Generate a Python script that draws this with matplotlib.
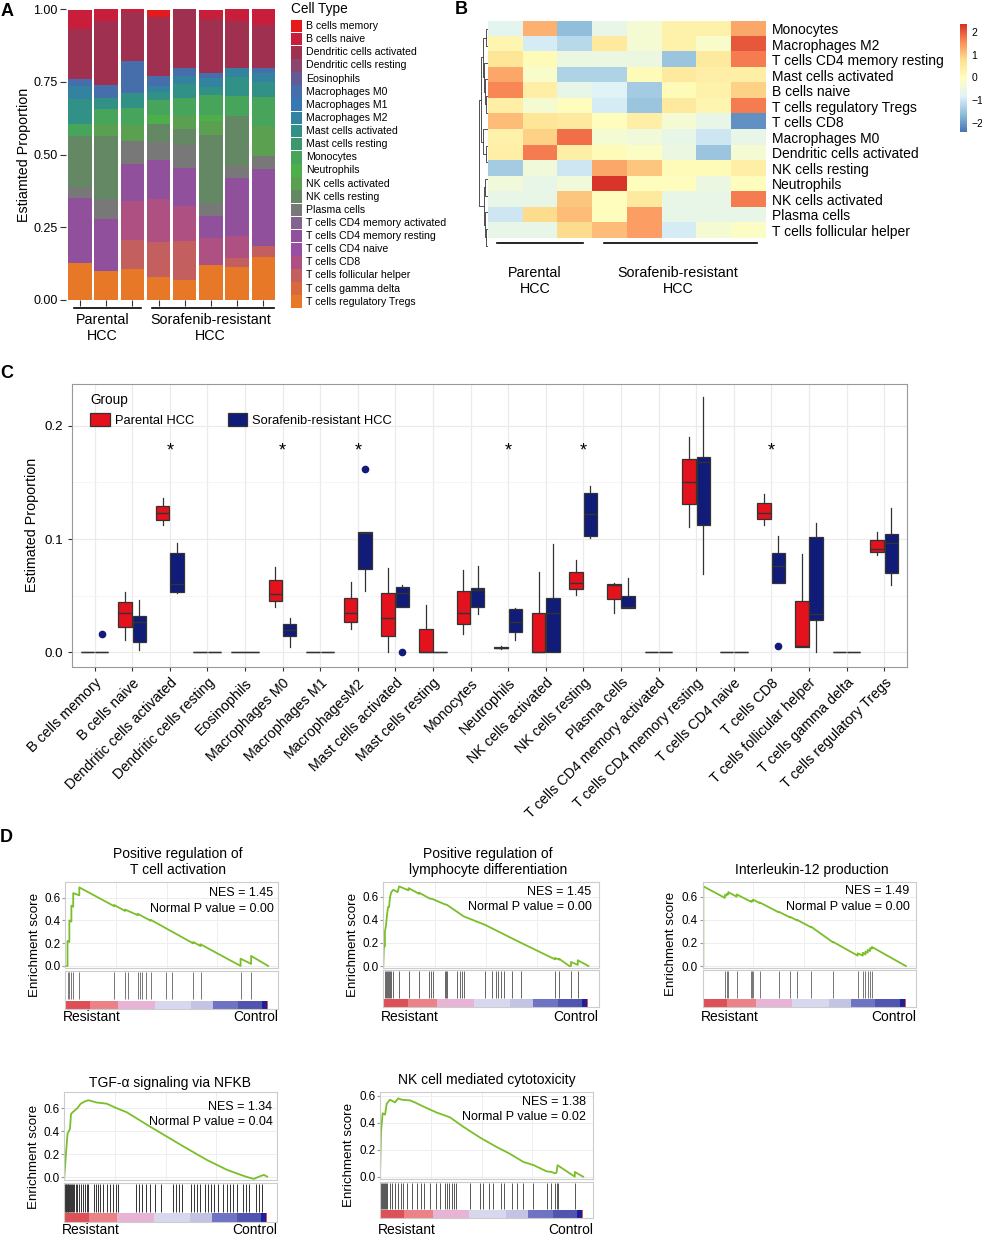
import numpy as np
import matplotlib
matplotlib.use('Agg')
import matplotlib.pyplot as plt
from matplotlib.colors import LinearSegmentedColormap
from matplotlib.patches import Rectangle, Patch

plt.rcParams['font.family'] = ['Liberation Sans', 'DejaVu Sans']

# ---------------- data ----------------
cell_types = ['B cells memory', 'B cells naive', 'Dendritic cells activated', 'Dendritic cells resting',
              'Eosinophils', 'Macrophages M0', 'Macrophages M1', 'Macrophages M2',
              'Mast cells activated', 'Mast cells resting', 'Monocytes', 'Neutrophils',
              'NK cells activated', 'NK cells resting', 'Plasma cells', 'T cells CD4 memory activated',
              'T cells CD4 memory resting', 'T cells CD4 naive', 'T cells CD8', 'T cells follicular helper',
              'T cells gamma delta', 'T cells regulatory Tregs']
cell_colors = ['#E41A1C', '#C81E3C', '#A03050', '#8C466E', '#645A96', '#466EAA', '#3778B4', '#3282A0',
               '#329187', '#3C966E', '#46A55A', '#4DAF4A', '#5AA050', '#648764', '#787878', '#82648C',
               '#91509B', '#984EA3', '#AF5082', '#C35F5F', '#D7693C', '#E67828']

# panel A: estimated proportion per sample (3 parental + 5 resistant)
prop = {
    'B cells memory': [0, 0, 0, 0.025, 0, 0, 0, 0],
    'B cells naive': [0.065, 0.042, 0.011, 0, 0, 0.034, 0.039, 0.054],
    'Dendritic cells activated': [0.172, 0.218, 0.169, 0.204, 0.203, 0.183, 0.164, 0.149],
    'Macrophages M0': [0.026, 0.046, 0.109, 0.034, 0.029, 0.019, 0, 0.017],
    'Macrophages M2': [0.042, 0, 0, 0.02, 0.025, 0.03, 0.03, 0.03],
    'Mast cells activated': [0.088, 0.038, 0.052, 0.028, 0.05, 0.027, 0.065, 0.05],
    'Monocytes': [0.041, 0.05, 0.06, 0.05, 0.06, 0.07, 0.069, 0.1],
    'Neutrophils': [0, 0, 0, 0.033, 0, 0.02, 0, 0],
    'NK cells activated': [0, 0.042, 0.055, 0, 0.047, 0.048, 0, 0.106],
    'NK cells resting': [0.174, 0.218, 0, 0.061, 0.054, 0.235, 0.172, 0],
    'Plasma cells': [0.04, 0.069, 0.077, 0.061, 0.08, 0.044, 0.042, 0.044],
    'T cells CD4 memory resting': [0.224, 0.177, 0.13, 0.134, 0.13, 0.077, 0.2, 0.264],
    'T cells CD8': [0, 0, 0.132, 0.149, 0.119, 0.092, 0.075, 0],
    'T cells follicular helper': [0, 0, 0.101, 0.12, 0.135, 0, 0.029, 0.037],
    'T cells regulatory Tregs': [0.126, 0.101, 0.106, 0.08, 0.069, 0.12, 0.115, 0.149],
}

# panel B: row z-scores
hm_rows = ['Monocytes', 'Macrophages M2', 'T cells CD4 memory resting', 'Mast cells activated',
           'B cells naive', 'T cells regulatory Tregs', 'T cells CD8', 'Macrophages M0',
           'Dendritic cells activated', 'NK cells resting', 'Neutrophils', 'NK cells activated',
           'Plasma cells', 'T cells follicular helper']
hm_vals = [
    [-0.7, 1.2, -1.6, -0.6, -0.3, 0.3, 0.3, 1.3],
    [0.2, -0.9, -1.2, 0.5, -0.3, 0.3, -0.2, 2.0],
    [0.6, 0.1, -0.5, -0.5, -0.5, -1.5, 0.5, 1.7],
    [1.3, -0.2, -1.3, -1.3, 0.1, 0.5, 0.4, 0.4],
    [1.6, 0.4, -0.6, -0.8, -1.4, 0.1, 0.3, 0.9],
    [0.4, -0.3, 0.0, -0.9, -1.5, 0.5, 0.2, 1.7],
    [1.1, 0.6, 0.5, 0.0, 0.4, -0.3, -0.6, -2.1],
    [0.3, 0.9, 1.8, -0.3, -0.4, -0.6, -1.0, -0.6],
    [0.4, 1.7, 0.4, 0.1, -0.1, -0.5, -1.5, -0.3],
    [-1.4, -0.4, -1.0, 1.3, 1.0, 0.1, 0.1, 0.4],
    [-0.4, -0.6, -0.4, 2.3, 0.0, 0.0, -0.5, 0.0],
    [-0.6, -0.6, 1.0, 0.0, 0.5, -0.6, -0.6, 1.7],
    [-1.0, 0.8, 1.1, 0.0, 1.4, -0.6, -0.6, -0.6],
    [-0.6, -0.6, 0.8, 1.1, 1.4, -0.9, -0.3, -0.1],
]
# row dendrogram (left, right, height)
row_tree = ((((0, 1, 0.3), (2, (3, (4, 5, 0.2), 0.35), 0.5), 0.6), (6, (7, 8, 0.3), 0.55), 0.8),
            ((9, 10, 0.4), (11, (12, 13, 0.2), 0.35), 0.5), 1.0)

# panel C: box stats [whislo, q1, med, q3, whishi]
box_labels = ['B cells memory', 'B cells naive', 'Dendritic cells activated', 'Dendritic cells resting',
              'Eosinophils', 'Macrophages M0', 'Macrophages M1', 'MacrophagesM2', 'Mast cells activated',
              'Mast cells resting', 'Monocytes', 'Neutrophils', 'NK cells activated', 'NK cells resting',
              'Plasma cells', 'T cells CD4 memory activated', 'T cells CD4 memory resting',
              'T cells CD4 naive', 'T cells CD8', 'T cells follicular helper', 'T cells gamma delta',
              'T cells regulatory Tregs']
par_box = [
    [0, 0, 0, 0, 0],
    [0.011, 0.0226, 0.0344, 0.044, 0.0535],
    [0.112, 0.117, 0.1226, 0.129, 0.136],
    [0, 0, 0, 0, 0],
    [0, 0, 0, 0, 0],
    [0.0397, 0.0456, 0.0515, 0.0638, 0.0756],
    [0, 0, 0, 0, 0],
    [0.0203, 0.0268, 0.0344, 0.048, 0.0618],
    [0, 0.0144, 0.0306, 0.0526, 0.074],
    [0, 0, 0, 0.0203, 0.0418],
    [0.016, 0.025, 0.0344, 0.054, 0.0726],
    [0.003, 0.0035, 0.0042, 0.005, 0.0055],
    [0, 0, 0, 0.0344, 0.0712],
    [0.0506, 0.0556, 0.0614, 0.0712, 0.0815],
    [0.0344, 0.0468, 0.0594, 0.0603, 0.0614],
    [0, 0, 0, 0, 0],
    [0.1109, 0.1306, 0.15, 0.1706, 0.1903],
    [0, 0, 0, 0, 0],
    [0.1124, 0.1174, 0.1227, 0.1315, 0.1397],
    [0.0044, 0.0044, 0.006, 0.0455, 0.0865],
    [0, 0, 0, 0, 0],
    [0.0859, 0.0883, 0.0912, 0.099, 0.1065],
]
res_box = [
    [0, 0, 0, 0, 0],
    [0.002, 0.0088, 0.027, 0.032, 0.046],
    [0.052, 0.053, 0.06, 0.088, 0.0968],
    [0, 0, 0, 0, 0],
    [0, 0, 0, 0, 0],
    [0.005, 0.0144, 0.02, 0.025, 0.03],
    [0, 0, 0, 0, 0],
    [0.054, 0.0732, 0.105, 0.1065, 0.1065],
    [0.0403, 0.0403, 0.0526, 0.058, 0.059],
    [0, 0, 0, 0, 0],
    [0.0335, 0.040, 0.055, 0.057, 0.076],
    [0.0109, 0.018, 0.027, 0.038, 0.0388],
    [0, 0, 0.0344, 0.0482, 0.0956],
    [0.101, 0.1026, 0.1218, 0.1403, 0.1468],
    [0.0388, 0.0388, 0.04, 0.0497, 0.0653],
    [0, 0, 0, 0, 0],
    [0.0688, 0.1124, 0.168, 0.1721, 0.2256],
    [0, 0, 0, 0, 0],
    [0.0609, 0.0609, 0.0765, 0.0879, 0.1026],
    [0, 0.0285, 0.0335, 0.102, 0.1138],
    [0, 0, 0, 0, 0],
    [0.0594, 0.0697, 0.0962, 0.1044, 0.1277],
]
res_outliers = {0: [0.0165], 7: [0.1618], 8: [0.0], 18: [0.0058]}
star_idx = [2, 5, 7, 11, 13, 18]

# panel D: running enrichment score (rank %, ES) and hit positions
g1_rank = [0, 1.1, 1.1, 2.0, 2.0, 3.0, 3.0, 3.9, 3.9, 6.9, 6.9, 24.1, 24.1, 29.5, 29.5, 35.7, 35.7, 42.1,
           42.1, 63.1, 63.1, 66.7, 66.7, 86.4, 86.4, 91.6, 91.6, 100]
g1_es = [0, 0, 0.22, 0.21, 0.40, 0.39, 0.53, 0.52, 0.64, 0.62, 0.69, 0.525, 0.535, 0.483, 0.495, 0.446,
         0.458, 0.397, 0.405, 0.198, 0.21, 0.175, 0.19, 0.0, 0.064, 0.018, 0.088, 0.0]
g1_hits = [1.1, 2.0, 3.0, 3.9, 6.9, 24.1, 29.5, 30.7, 35.7, 36.9, 38.0, 39.7, 42.1, 49.8, 52.5, 63.1,
           66.7, 86.4, 91.6]

g2_rank = [0, 0.3, 0.8, 0.8, 1.3, 1.8, 2.3, 2.8, 3.3, 3.9, 4.9, 7.0, 7.7, 12.3, 12.3, 17.5, 17.5, 22.5,
           24.0, 29.9, 31.0, 39.2, 49.8, 65.4, 83.7, 83.7, 85.8, 85.8, 90.7, 91.5, 91.5, 94.8, 94.8, 100]
g2_es = [0, 0.17, 0.17, 0.30, 0.35, 0.44, 0.51, 0.51, 0.60, 0.64, 0.66, 0.64, 0.69, 0.655, 0.675, 0.625,
         0.635, 0.585, 0.58, 0.535, 0.53, 0.43, 0.355, 0.216, 0.058, 0.07, 0.055, 0.062, 0.0, 0.0, 0.035,
         0.01, 0.05, 0.0]
g2_hits = [0.8, 1.3, 1.8, 2.3, 2.8, 3.3, 3.9, 4.9, 7.7, 12.3, 17.5, 22.5, 23.2, 24.0, 29.9, 30.6, 31.0,
           35.9, 37.6, 38.4, 39.2, 49.8, 53.1, 54.7, 56.0, 57.2, 58.8, 62.9, 67.0, 83.7, 85.8, 91.5, 94.8]

g3_rank = [0, 0.3, 0.3, 10.9, 10.9, 11.8, 11.8, 12.6, 12.6, 16.7, 16.7, 24.0, 24.0, 24.8, 24.8, 28.1,
           28.1, 37.4, 37.4, 43.1, 43.1, 46.4, 46.4, 53.4, 53.4, 64.1, 64.1, 76.3, 76.3, 78.8, 78.8, 80.1,
           80.1, 81.2, 81.2, 82.4, 82.4, 83.3, 83.3, 100]
g3_es = [0, 0.0, 0.69, 0.59, 0.615, 0.61, 0.625, 0.62, 0.64, 0.60, 0.62, 0.555, 0.565, 0.56, 0.575, 0.545,
         0.55, 0.465, 0.47, 0.42, 0.425, 0.395, 0.40, 0.335, 0.34, 0.205, 0.21, 0.09, 0.11, 0.09, 0.115,
         0.10, 0.125, 0.115, 0.14, 0.13, 0.155, 0.15, 0.165, 0.0]
g3_hits = [0.3, 10.9, 11.8, 12.6, 16.7, 24.0, 24.5, 24.8, 28.1, 37.4, 43.1, 46.4, 53.4, 64.1, 76.3, 78.8,
           80.1, 81.2, 82.4, 83.3]

g4_rank = [0, 0.8, 1.6, 2.8, 3.3, 4.4, 6.4, 8.1, 10.2, 11.9, 16.0, 20.9, 25.9, 30.8, 42.3, 58.8, 70.3,
           80.2, 89.3, 93.4, 96.7, 98.4, 100]
g4_es = [0, 0.20, 0.38, 0.42, 0.55, 0.57, 0.60, 0.64, 0.66, 0.67, 0.65, 0.64, 0.60, 0.565, 0.44, 0.267,
         0.15, 0.064, 0.006, -0.015, 0.01, 0.02, 0.005]
g4_hits = [0.3, 0.6, 1.0, 1.3, 1.6, 2.0, 2.5, 2.8, 3.3, 3.8, 4.4, 5.0, 5.6, 6.4, 7.2, 8.1, 9.0, 10.2,
           11.0, 11.9, 14.5, 15.5, 16.5, 17.5, 19.0, 21.0, 22.5, 24.0, 25.5, 26.5, 35.5, 37.0, 38.5, 40.5,
           42.0, 44.5, 47.5, 53.5, 55.0, 56.5, 58.0, 62.5, 64.0, 65.5, 67.0, 69.5, 71.0, 72.5, 74.0, 76.0,
           78.0, 80.0, 81.5, 83.0, 85.0, 88.0, 89.5, 91.0, 94.5, 96.0, 97.5]

g5_rank = [0, 0.5, 1.3, 2.5, 3.3, 4.9, 7.4, 9.0, 10.7, 14.8, 17.2, 21.3, 27.9, 34.4, 41.0, 49.2, 57.4,
           63.9, 70.5, 75.7, 82.0, 84.4, 86.1, 86.9, 87.4, 95.9, 95.9, 100]
g5_es = [0, 0.33, 0.47, 0.46, 0.54, 0.57, 0.55, 0.58, 0.57, 0.565, 0.55, 0.52, 0.475, 0.44, 0.37, 0.29,
         0.22, 0.17, 0.11, 0.085, 0.04, 0.035, 0.025, 0.03, 0.085, 0.0, 0.035, 0.0]
g5_hits = [0.3, 0.8, 1.3, 2.0, 2.5, 3.0, 3.6, 4.9, 5.7, 7.4, 9.0, 10.3, 11.5, 13.4, 15.6, 18.0, 20.0,
           21.8, 24.6, 27.5, 29.5, 32.0, 32.8, 34.1, 35.2, 36.4, 37.4, 44.3, 49.2, 50.8, 53.8, 55.7, 59.8,
           61.0, 64.8, 67.2, 70.2, 75.4, 82.0, 84.4, 86.1, 86.9, 87.4, 95.9]

rank_edges = [0, 12, 26, 44, 62, 73, 85, 97, 99.5]
rank_colors = ['#DE5058', '#EB8288', '#E8B4D6', '#D7D7EE', '#C3C3E6', '#6E73C3', '#5055AF', '#1E1E96']

# ---------------- layout helpers ----------------
W, H = 982, 1235
fig = plt.figure(figsize=(W / 100, H / 100), dpi=100)


def rect(x0, y0, x1, y1):
    return [x0 / W, 1 - y1 / H, (x1 - x0) / W, (y1 - y0) / H]


def ftext(x, y, s, **kw):
    fig.text(x / W, 1 - y / H, s, **kw)


# ---------------- panel A ----------------
ax = fig.add_axes(rect(66, 9.3, 277, 300))
xs = np.arange(8)
bottom = np.zeros(8)
for name, col in reversed(list(zip(cell_types, cell_colors))):
    vals = np.array(prop.get(name, [0] * 8), dtype=float)
    ax.bar(xs, vals, width=0.89, bottom=bottom, color=col, edgecolor='none')
    bottom += vals
ax.set_xlim(-0.53, 7.52)
ax.set_ylim(0, 1)
ax.set_yticks([0, 0.25, 0.5, 0.75, 1.0])
ax.set_yticklabels(['0.00', '0.25', '0.50', '0.75', '1.00'], fontsize=9)
ax.set_xticks(xs)
ax.set_xticklabels([])
ax.tick_params(length=4, width=0.8, color='#333333', pad=2)
for s in ax.spines.values():
    s.set_visible(False)
ax.set_ylabel('Estiamted Proportion', fontsize=10.3)
ax.yaxis.set_label_coords(-0.165, 0.5)
ax.plot([-0.23, 2.35], [-0.028, -0.028], color='k', lw=1.2, clip_on=False)
ax.plot([2.77, 7.4], [-0.028, -0.028], color='k', lw=1.2, clip_on=False)
ftext(102.7, 328, 'Parental\nHCC', ha='center', va='center', fontsize=10.3, linespacing=1.15)
ftext(210.7, 328, 'Sorafenib-resistant\nHCC', ha='center', va='center', fontsize=10.3, linespacing=1.15)

lax = fig.add_axes(rect(285, 0, 480, 310))
lax.set_xlim(285, 480)
lax.set_ylim(310, 0)
lax.axis('off')
lax.text(291, 9, 'Cell Type', fontsize=9.8, va='center')
for i, (name, col) in enumerate(zip(cell_types, cell_colors)):
    y = 26 + 13.13 * i
    lax.add_patch(Rectangle((291, y - 6.3), 10.5, 12.6, color=col, lw=0))
    lax.text(305.7, y, name, fontsize=7.6, va='center')

# ---------------- panel B ----------------
hm_cmap = LinearSegmentedColormap.from_list(
    'rdylbu', ['#4575B4', '#91BFDB', '#E0F3F8', '#FFFFBF', '#FEE090', '#FC8D59', '#D73027'])
hax = fig.add_axes(rect(488.3, 21, 766, 254))
im = hax.imshow(np.array(hm_vals), cmap=hm_cmap, vmin=-2.4, vmax=2.35, aspect='auto',
                interpolation='nearest')
hax.set_xticks([])
hax.yaxis.tick_right()
hax.set_yticks(range(len(hm_rows)))
hax.set_yticklabels(hm_rows, fontsize=10)
hax.tick_params(length=0, pad=4)
for s in hax.spines.values():
    s.set_visible(False)
hax.plot([-0.25, 2.23], [13.8, 13.8], color='k', lw=1.2, clip_on=False)
hax.plot([2.83, 7.24], [13.8, 13.8], color='k', lw=1.2, clip_on=False)
ftext(535, 281, 'Parental\nHCC', ha='center', va='center', fontsize=10.3, linespacing=1.15)
ftext(678, 281, 'Sorafenib-resistant\nHCC', ha='center', va='center', fontsize=10.3, linespacing=1.15)

dax = fig.add_axes(rect(479, 21, 488.3, 254))


def draw_tree(node):
    if isinstance(node, int):
        return node, 0.0
    left, right, h = node
    yl, hl = draw_tree(left)
    yr, hr = draw_tree(right)
    dax.plot([hl, h, h, hr], [yl, yl, yr, yr], color='#333333', lw=0.6)
    return (yl + yr) / 2, h


draw_tree(row_tree)
dax.set_xlim(1.02, 0)
dax.set_ylim(13.5, -0.5)
dax.axis('off')

cbax = fig.add_axes(rect(960, 24, 967, 132))
cb = fig.colorbar(im, cax=cbax, ticks=[-2, -1, 0, 1, 2])
cb.outline.set_visible(False)
cbax.tick_params(labelsize=7.5, length=0, pad=3)

# ---------------- panel C ----------------
red, navy = '#E3121C', '#101C78'
cax = fig.add_axes(rect(72, 384, 906.7, 666.7))
pos = np.arange(1, len(box_labels) + 1)


def to_stats(rows, outl):
    out = []
    for i, r in enumerate(rows):
        out.append(dict(whislo=r[0], q1=r[1], med=r[2], q3=r[3], whishi=r[4], fliers=outl.get(i, [])))
    return out


common = dict(widths=0.36, patch_artist=True, showcaps=False,
              medianprops=dict(color='#333333', lw=1.0),
              whiskerprops=dict(color='#333333', lw=0.9))
cax.bxp(to_stats(par_box, {}), positions=pos - 0.19,
        boxprops=dict(facecolor=red, edgecolor='#333333', lw=0.9), **common)
cax.bxp(to_stats(res_box, res_outliers), positions=pos + 0.19,
        boxprops=dict(facecolor=navy, edgecolor='#333333', lw=0.9),
        flierprops=dict(marker='o', markerfacecolor=navy, markeredgecolor=navy, markersize=4.5), **common)
for i in star_idx:
    cax.text(pos[i], 0.178, '*', ha='center', va='center', fontsize=13)
cax.set_xlim(0.4, 22.6)
cax.set_ylim(-0.0127, 0.2368)
cax.set_yticks([0, 0.1, 0.2])
cax.set_yticklabels(['0.0', '0.1', '0.2'], fontsize=9.6)
cax.set_yticks([0.05, 0.15], minor=True)
cax.set_xticks(pos)
cax.set_xticklabels(box_labels, rotation=45, ha='right', rotation_mode='anchor', fontsize=10.3)
cax.tick_params(which='major', length=3, color='#333333')
cax.tick_params(which='minor', length=0)
cax.grid(which='major', color='#EBEBEB', lw=0.9)
cax.grid(which='minor', axis='y', color='#F2F2F2', lw=0.6)
cax.set_axisbelow(True)
for s in cax.spines.values():
    s.set_color('#999999')
cax.set_ylabel('Estimated Proportion', fontsize=10.3)
cax.yaxis.set_label_coords(-0.04, 0.5)
handles = [Patch(facecolor=red, edgecolor='#333333', lw=0.9),
           Patch(facecolor=navy, edgecolor='#333333', lw=0.9)]
cax.legend(handles, ['Parental HCC', 'Sorafenib-resistant HCC'], title='Group', ncol=2,
           loc='upper left', bbox_to_anchor=(0.008, 1.01), frameon=False, fontsize=9.3,
           title_fontsize=9.8, alignment='left', handlelength=1.5, handleheight=1.1,
           columnspacing=2.6, handletextpad=0.4)

# ---------------- panel D ----------------
green = '#7ABF2A'


def gsea(x0, x1, uy0, uy1, ly0, ly1, ylim, ranks, es, hits, title, tx, ty, nes_pos, ylab_x, lab_y,
         nes, pval, hit_col):
    ua = fig.add_axes(rect(x0, uy0, x1, uy1))
    ua.plot(ranks, es, color=green, lw=1.3)
    ua.set_xlim(0, 105)
    ua.set_ylim(*ylim)
    ua.set_yticks([0, 0.2, 0.4, 0.6])
    ua.set_yticklabels(['0.0', '0.2', '0.4', '0.6'], fontsize=8.4)
    ua.set_xticks([25, 50, 75])
    ua.set_xticklabels([])
    ua.tick_params(axis='x', length=0)
    ua.tick_params(axis='y', length=2, color='#999999', pad=1.5)
    ua.grid(color='#EEEEEE', lw=0.7)
    ua.axhline(0, color='#DDDDDD', lw=0.8, zorder=0)
    for s in ua.spines.values():
        s.set_color('#CCCCCC')
    ua.text(nes_pos[0], nes_pos[1], nes, transform=ua.transAxes, ha='right', va='center', fontsize=9)
    ua.text(nes_pos[0], nes_pos[2], pval, transform=ua.transAxes, ha='right', va='center', fontsize=9)

    la = fig.add_axes(rect(x0, ly0, x1, ly1))
    la.set_xlim(0, 105)
    la.set_ylim(0, 1)
    la.vlines(hits, 0.25, 0.97, color=hit_col, lw=0.7)
    widths = np.diff(rank_edges + [100])
    la.bar(rank_edges, [0.22] * len(rank_edges), width=widths, bottom=0, align='edge',
           color=rank_colors, edgecolor='none')
    la.set_xticks([])
    la.set_yticks([])
    for s in la.spines.values():
        s.set_color('#CCCCCC')

    ftext(tx, ty, title, ha='center', va='center', fontsize=10, linespacing=1.2)
    ftext(ylab_x, (uy0 + ly1) / 2, 'Enrichment score', rotation=90, ha='center', va='center', fontsize=9.6)
    ftext(x0 - 2, lab_y, 'Resistant', ha='left', va='center', fontsize=10)
    ftext(x1, lab_y, 'Control', ha='right', va='center', fontsize=10)


gsea(65.3, 278.3, 881.7, 968, 970.7, 1009, (-0.018, 0.74), g1_rank, g1_es, g1_hits,
     'Positive regulation of\nT cell activation', 177.7, 861.7, (0.977, 0.866, 0.684), 35, 1016.7,
     'NES = 1.45', 'Normal P value = 0.00', '#777777')
gsea(383.3, 598.7, 882.3, 968, 970, 1007, (-0.017, 0.725), g2_rank, g2_es, g2_hits,
     'Positive regulation of\nlymphocyte differentiation', 488.3, 861.7, (0.967, 0.89, 0.715), 353,
     1016.7, 'NES = 1.45', 'Normal P value = 0.00', '#666666')
gsea(702.7, 916, 881.7, 968, 970, 1007, (-0.017, 0.73), g3_rank, g3_es, g3_hits,
     'Interleukin-12 production', 811.7, 870, (0.97, 0.892, 0.71), 670.5, 1016.7,
     'NES = 1.49', 'Normal P value = 0.00', '#777777')
gsea(64.3, 277.3, 1092.3, 1179.5, 1182.7, 1221.7, (-0.02, 0.739), g4_rank, g4_es, g4_hits,
     'TGF-α signaling via NFKB', 170, 1082.7, (0.978, 0.835, 0.663), 34.3, 1230,
     'NES = 1.34', 'Normal P value = 0.04', '#333333')
gsea(380, 593.3, 1092.3, 1179, 1181.7, 1218.3, (-0.017, 0.625), g5_rank, g5_es, g5_hits,
     'NK cell mediated cytotoxicity', 486.7, 1080, (0.966, 0.885, 0.712), 349, 1230,
     'NES = 1.38', 'Normal P value = 0.02', '#555555')

# ---------------- panel letters ----------------
ftext(1, 11, 'A', fontsize=13, fontweight='bold', va='center')
ftext(455, 10, 'B', fontsize=13, fontweight='bold', va='center')
ftext(0, 374, 'C', fontsize=13, fontweight='bold', va='center')
ftext(0, 837, 'D', fontsize=13, fontweight='bold', va='center')

fig.savefig('out.png', dpi=100)
